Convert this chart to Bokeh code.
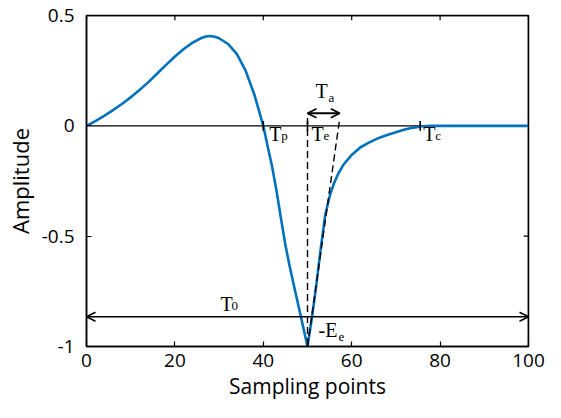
from bokeh.plotting import figure
from bokeh.models import Range1d, FixedTicker, Label, Arrow, OpenHead, ColumnDataSource
from bokeh.embed import file_html
from bokeh.resources import INLINE

# ---- data ----
x_vals = [0, 2, 4, 6, 8, 10, 12, 14, 16, 18, 20, 22, 24, 26, 27, 28, 29, 30, 32, 34, 36, 38, 39,
          40, 41, 42, 43, 44, 45, 46, 47, 48, 49, 50,
          51, 52, 53, 54, 55, 56, 57, 58, 59, 60, 62, 64, 66, 68, 70, 72, 74, 76, 78,
          80, 85, 90, 95, 100]
y_vals = [0.0, 0.021, 0.045, 0.071, 0.099, 0.129, 0.162, 0.198, 0.237, 0.276, 0.314, 0.348, 0.377, 0.398, 0.405, 0.407, 0.404, 0.397, 0.371, 0.326, 0.250, 0.140, 0.070,
          0.0, -0.095, -0.185, -0.295, -0.420, -0.540, -0.640, -0.730, -0.820, -0.910, -1.0,
          -0.870, -0.720, -0.555, -0.405, -0.320, -0.260, -0.215, -0.180, -0.155, -0.132, -0.097, -0.075, -0.056, -0.042, -0.029, -0.017, -0.008, -0.002, 0.0,
          0.0, 0.0, 0.0, 0.0, 0.0]

x_ticks = [0, 20, 40, 60, 80, 100]
y_ticks = [-1, -0.5, 0, 0.5]
y_tick_labels = ["-1", "-0.5", "0", "0.5"]

Tp = 40.0
Te = 50.0
Tc = 75.5
Ta_end = 57.3
Ee = 1.0
Ta_arrow_y = 0.057
T0_arrow_y = -0.865
T0_label_x = 30.3
tick_half = 0.022
dash_top = 0.035

BLUE = "#0072BD"
SERIF = "Liberation Serif"
SANS = "Open Sans"

p = figure(width=545, height=402, output_backend="svg", toolbar_location=None,
           x_range=Range1d(x_ticks[0], x_ticks[-1]), y_range=Range1d(y_ticks[0], y_ticks[-1]),
           min_border_left=86, min_border_right=17, min_border_top=15, min_border_bottom=56)
p.background_fill_color = "white"
p.border_fill_color = "white"
p.grid.visible = False
p.outline_line_color = "black"
p.outline_line_width = 1.5

for ax in (p.xaxis[0], p.yaxis[0]):
    ax.major_tick_in = 5
    ax.major_tick_out = 0
    ax.minor_tick_line_color = None
    ax.axis_line_color = "black"
    ax.axis_line_width = 1.5
    ax.major_tick_line_width = 1.2
    ax.major_label_text_font = SANS
    ax.major_label_text_font_size = "19px"
    ax.major_label_text_color = "black"
    ax.axis_label_text_font = SANS
    ax.axis_label_text_font_style = "normal"
    ax.axis_label_text_color = "black"

p.xaxis.axis_label_text_font_size = "21px"
p.yaxis.axis_label_text_font_size = "22px"
p.xaxis.ticker = FixedTicker(ticks=x_ticks)
p.yaxis.ticker = FixedTicker(ticks=y_ticks)
p.yaxis.major_label_overrides = {t: s for t, s in zip(y_ticks, y_tick_labels)}
p.xaxis.axis_label = "Sampling points"
p.yaxis.axis_label = "Amplitude"
p.xaxis.major_label_standoff = 7
p.yaxis.major_label_standoff = 12
p.xaxis.axis_label_standoff = 2
p.yaxis.axis_label_standoff = 4

# box: top and right edges with inward ticks
xmin, xmax = x_ticks[0], x_ticks[-1]
ymin, ymax = y_ticks[0], y_ticks[-1]
p.line([xmin, xmax], [ymax, ymax], line_color="black", line_width=1.5)
p.line([xmax, xmax], [ymin, ymax], line_color="black", line_width=1.5)
p.segment(x0=x_ticks, y0=[ymax] * len(x_ticks), x1=x_ticks, y1=[ymax - tick_half] * len(x_ticks),
          line_color="black", line_width=1.2)
p.segment(x0=[xmax] * len(y_ticks), y0=y_ticks, x1=[xmax - 1.1] * len(y_ticks), y1=y_ticks,
          line_color="black", line_width=1.2)

# zero line
p.line([xmin, xmax], [0, 0], line_color="black", line_width=1.3)

# curve
src = ColumnDataSource(dict(x=x_vals, y=y_vals))
p.line("x", "y", source=src, line_color=BLUE, line_width=2.6)

# small tick marks at Tp, Te, Tc
marks = [Tp, Te, Tc]
p.segment(x0=marks, y0=[-tick_half] * 3, x1=marks, y1=[tick_half] * 3,
          line_color="black", line_width=1.6)

# dashed lines
p.segment(x0=[Te, Te], y0=[dash_top, -Ee], x1=[Te, Ta_end], y1=[-Ee, dash_top],
          line_color="black", line_width=1.4, line_dash="7 4")

# arrows
p.add_layout(Arrow(x_start=Te, y_start=Ta_arrow_y, x_end=Ta_end, y_end=Ta_arrow_y,
                   start=OpenHead(size=9, line_width=1.8), end=OpenHead(size=9, line_width=1.8),
                   line_width=1.8, line_color="black"))
p.add_layout(Arrow(x_start=xmin, y_start=T0_arrow_y, x_end=xmax, y_end=T0_arrow_y,
                   start=OpenHead(size=9, line_width=1.5), end=OpenHead(size=9, line_width=1.5),
                   line_width=1.5, line_color="black"))

def sym(main, sub, x, y, dx, dy, sub_dx, sub_dy):
    p.add_layout(Label(x=x, y=y, x_offset=dx, y_offset=dy, text=main,
                       text_font=SERIF, text_font_size="20px", text_color="black",
                       text_baseline="alphabetic"))
    p.add_layout(Label(x=x, y=y, x_offset=dx + sub_dx, y_offset=dy + sub_dy, text=sub,
                       text_font=SERIF, text_font_size="13px", text_color="black",
                       text_baseline="alphabetic"))

sym("T", "p", Tp, 0, 6, -8, 12, -2)
sym("T", "e", Te, 0, 4, -8, 12, -2)
sym("T", "c", Tc, 0, 3, -8, 12, -2)
sym("T", "a", Te, Ta_arrow_y, 8, 22, 13, -6)
sym("T", "0", T0_label_x, T0_arrow_y, 0, 13, 11, -2)
sym("-E", "e", Te, -Ee, 11, 17, 20, -7)

open("out.html", "w").write(file_html(p, INLINE))
